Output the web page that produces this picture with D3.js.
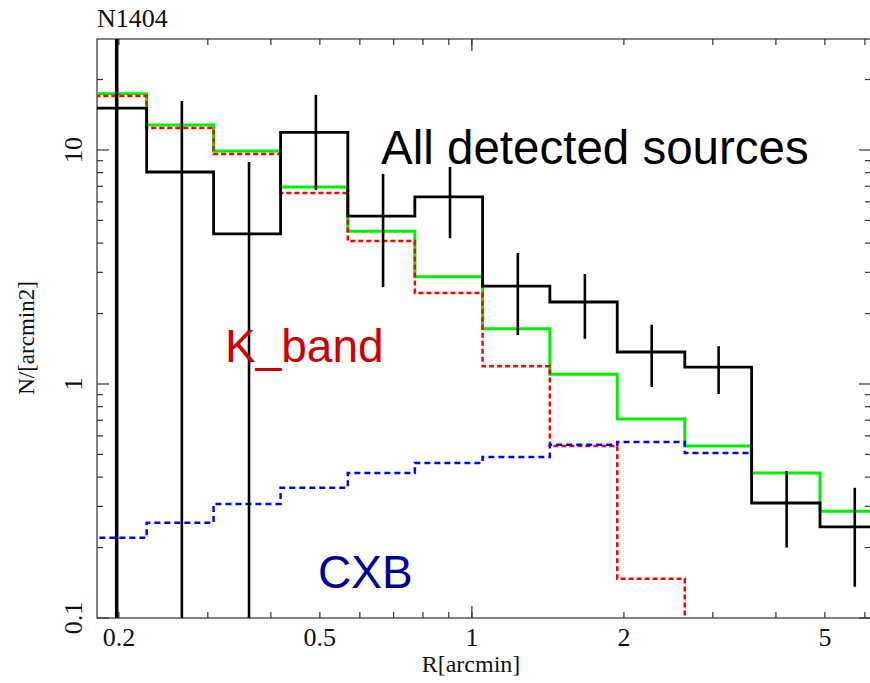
<!DOCTYPE html>
<html>
<head>
<meta charset="utf-8">
<script src="https://cdn.jsdelivr.net/npm/d3@7"></script>
<style>
html,body{margin:0;padding:0;background:#fff;}
svg{display:block;}
</style>
</head>
<body>
<script>
// ---- data ----
const binEdges = [0.167, 0.227, 0.308, 0.418, 0.568, 0.771, 1.05, 1.427, 1.94, 2.64, 3.58, 4.89, 6.6];
const binCenters = [0.198, 0.2665, 0.362, 0.491, 0.667, 0.905, 1.233, 1.674, 2.27, 3.08, 4.2, 5.73];
const allValues = [15.1, 8.05, 4.38, 11.9, 5.22, 6.3, 2.62, 2.24, 1.37, 1.18, 0.31, 0.245];
const allUpper  = [60, 16.2, 8.89, 17.2, 7.9, 8.46, 3.63, 2.95, 1.79, 1.45, 0.425, 0.36];
const allLower  = [0.01, 0.01, 0.01, 6.75, 2.6, 4.2, 1.62, 1.56, 0.97, 0.906, 0.2, 0.136];
const modelValues = [17.4, 12.8, 9.9, 6.95, 4.5, 2.87, 1.72, 1.10, 0.708, 0.543, 0.417, 0.286];
const kbandValues = [17.0, 12.4, 9.6, 6.55, 4.08, 2.45, 1.19, 0.543, 0.147, 0.05];
const cxbValues = [0.22, 0.255, 0.307, 0.36, 0.417, 0.46, 0.488, 0.55, 0.565, 0.507];
const xTickLabels = [0.2, 0.5, 1, 2, 5];
const yTickLabels = [0.1, 1, 10];
const xMinorTicks = [0.2,0.3,0.4,0.5,0.6,0.7,0.8,0.9,1,2,3,4,5,6];
const yMinorTicks = [0.2,0.3,0.4,0.5,0.6,0.7,0.8,0.9,2,3,4,5,6,7,8,9,20];
const xMajorTicks = [1];
const yMajorTicks = [0.1, 1, 10];

const W = 870, H = 683;
const L = 97, R = 871, T = 39, B = 618;

const svg = d3.select("body").append("svg").attr("width", W).attr("height", H);

const x = d3.scaleLog().domain([0.181, 6.17]).range([L, R]);
const y = d3.scaleLog().domain([0.1, 29.8]).range([B, T]);

svg.append("defs").append("clipPath").attr("id", "clip")
  .append("rect").attr("x", L).attr("y", T).attr("width", R - L).attr("height", B - T);

const serif = "'Liberation Serif','Times New Roman',serif";
const sans = "'Liberation Sans',Arial,sans-serif";

// frame
svg.append("rect").attr("x", L).attr("y", T).attr("width", R - L).attr("height", B - T)
  .attr("fill", "none").attr("stroke", "#333").attr("stroke-width", 1.2);

// ticks (inside, mirrored)
const tk = svg.append("g").attr("stroke", "#333").attr("stroke-width", 1.2);
function xt(v, len) {
  tk.append("line").attr("x1", x(v)).attr("x2", x(v)).attr("y1", B).attr("y2", B - len);
  tk.append("line").attr("x1", x(v)).attr("x2", x(v)).attr("y1", T).attr("y2", T + len);
}
function yt(v, len) {
  tk.append("line").attr("y1", y(v)).attr("y2", y(v)).attr("x1", L).attr("x2", L + len);
  tk.append("line").attr("y1", y(v)).attr("y2", y(v)).attr("x1", R).attr("x2", R - len);
}
xMinorTicks.forEach(v => xt(v, 6));
xMajorTicks.forEach(v => xt(v, 12));
yMinorTicks.forEach(v => yt(v, 6));
yMajorTicks.forEach(v => yt(v, 12));

// tick labels
svg.append("g").selectAll("text").data(xTickLabels).join("text")
  .attr("x", d => x(d)).attr("y", 646).attr("text-anchor", "middle")
  .attr("font-family", serif).attr("font-size", 26).attr("fill", "#111")
  .text(d => d3.format("")(d));
svg.append("g").selectAll("text").data(yTickLabels).join("text")
  .attr("transform", d => `translate(82,${y(d)}) rotate(-90)`)
  .attr("text-anchor", "middle")
  .attr("font-family", serif).attr("font-size", 26).attr("fill", "#111")
  .text(d => d3.format("")(d));

// axis titles
svg.append("text").attr("x", 471).attr("y", 672).attr("text-anchor", "middle")
  .attr("font-family", serif).attr("font-size", 24).attr("fill", "#111").text("R[arcmin]");
svg.append("text").attr("transform", "translate(34,338) rotate(-90)").attr("text-anchor", "middle")
  .attr("font-family", serif).attr("font-size", 23).attr("fill", "#111").text("N/[arcmin2]");
svg.append("text").attr("x", 97).attr("y", 27)
  .attr("font-family", serif).attr("font-size", 26).attr("fill", "#111").text("N1404");

// histograms
const plot = svg.append("g").attr("clip-path", "url(#clip)");
const step = d3.line().x(d => x(d[0])).y(d => y(d[1])).curve(d3.curveStepAfter);
function pts(vals) {
  const p = vals.map((v, i) => [binEdges[i], v]);
  p.push([binEdges[vals.length], vals[vals.length - 1]]);
  return p;
}
plot.append("path").attr("d", step(pts(modelValues))).attr("fill", "none")
  .attr("stroke", "#00ee00").attr("stroke-width", 3);
plot.append("path").attr("d", step(pts(kbandValues))).attr("fill", "none")
  .attr("stroke", "#ff0000").attr("stroke-width", 2.5).attr("stroke-dasharray", "5,3");
plot.append("path").attr("d", step(pts(cxbValues))).attr("fill", "none")
  .attr("stroke", "#0000ff").attr("stroke-width", 2.5).attr("stroke-dasharray", "6,4");
plot.append("path").attr("d", step(pts(allValues))).attr("fill", "none")
  .attr("stroke", "#000").attr("stroke-width", 2.8);
plot.append("g").selectAll("line").data(binCenters).join("line")
  .attr("x1", d => x(d)).attr("x2", d => x(d))
  .attr("y1", (d, i) => y(allUpper[i])).attr("y2", (d, i) => y(allLower[i]))
  .attr("stroke", "#000").attr("stroke-width", (d, i) => i === 0 ? 3.5 : 2.6);

// annotations
svg.append("text").attr("x", 381).attr("y", 164).attr("font-family", sans).attr("font-size", 47.5)
  .attr("fill", "#000").text("All detected sources");
svg.append("text").attr("x", 225).attr("y", 362).attr("font-family", sans).attr("font-size", 46)
  .attr("fill", "#cc0000").text("K_band");
svg.append("text").attr("x", 318).attr("y", 588).attr("font-family", sans).attr("font-size", 46)
  .attr("fill", "#000099").text("CXB");
</script>
</body>
</html>
